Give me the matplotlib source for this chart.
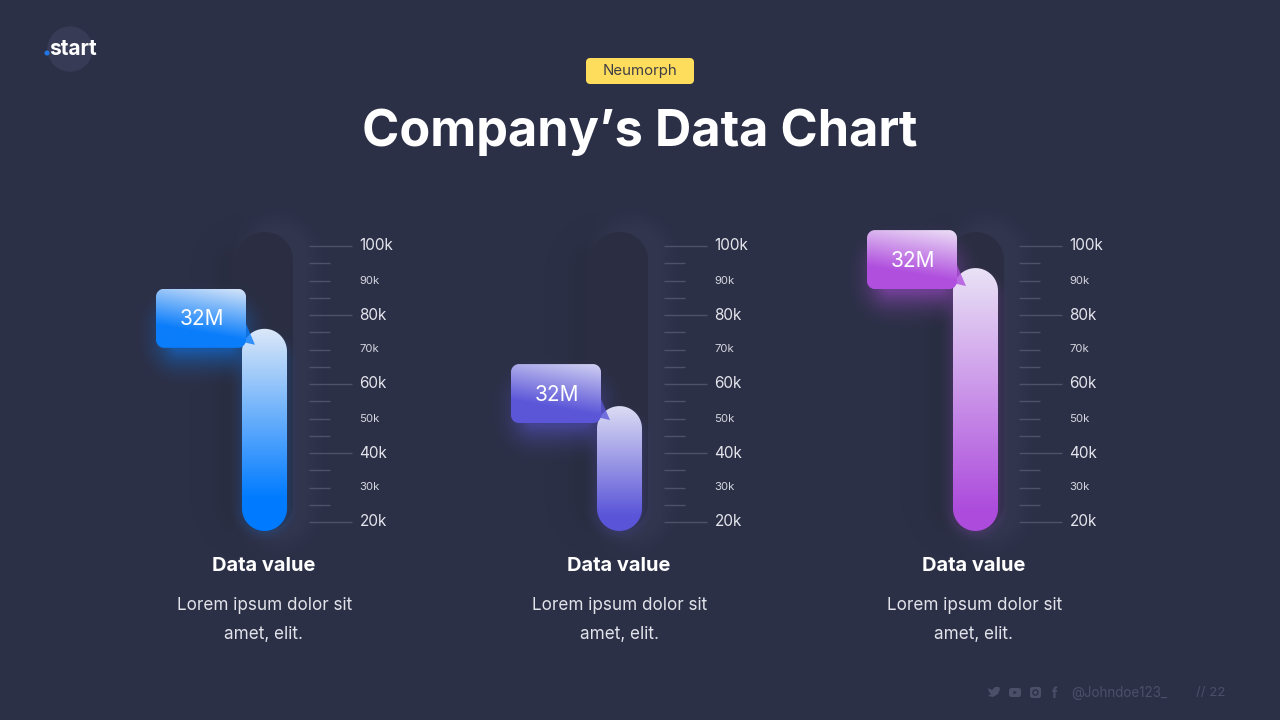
import numpy as np
import matplotlib
matplotlib.use("Agg")
import matplotlib.pyplot as plt
import matplotlib.patches as patches
from matplotlib.colors import to_rgb

plt.rcParams['font.family'] = ['Inter', 'DejaVu Sans']

# chart values (k)
bar_values = [76, 53.6, 93.6]
bar_base = 17.4
bubble_labels = ["32M", "32M", "32M"]
card_titles = ["Data value", "Data value", "Data value"]
card_lines = ["Lorem ipsum dolor sit", "amet, elit."]
tick_values = [100, 95, 90, 85, 80, 75, 70, 65, 60, 55, 50, 45, 40, 35, 30, 25, 20]
major_labels = {100: "100k", 80: "80k", 60: "60k", 40: "40k", 20: "20k"}
minor_labels = {90: "90k", 70: "70k", 50: "50k", 30: "30k"}

BG = "#2c3047"
W, H = 1280, 720
offsets = [0, 355, 711]
caption_x = [264, 619, 974]
bubble_lift = [40, 42, 38]
# top colour, bottom colour, where the bottom colour is reached
bar_colors = [("#dce8f8", "#007bff", 0.84), ("#dcdcf4", "#5a55d8", 0.88), ("#e9e2f6", "#ad4cdc", 0.92)]
bubble_colors = [("#d4e4f8", "#0a7dfb"), ("#d0cff2", "#5b56d8"), ("#ecdff6", "#b04fde")]
glow_colors = ["#0a7dfb", "#5b56d8", "#b04fde"]

fig = plt.figure(figsize=(12.8, 7.2), dpi=100, facecolor=BG)
ax = fig.add_axes([0, 0, 1, 1])
ax.set_xlim(0, W)
ax.set_ylim(H, 0)
ax.axis("off")

# second axes shares the figure, y is in k: 20k at px 522, 100k at px 246
val = fig.add_axes([0, 0, 1, 1], facecolor="none")
px_per_k = (522 - 246) / 80
val.set_xlim(0, W)
val.set_ylim(20 - (H - 522) / px_per_k, 20 + 522 / px_per_k)
val.axis("off")


def y_px(v):
    return H - val.transData.transform((0, v))[1]


yy, xx = np.mgrid[0:H, 0:W] + 0.5
canvas = np.ones((H, W, 3)) * np.array(to_rgb(BG))


def sdf(x0, y0, x1, y1, r):
    qx = np.abs(xx - (x0 + x1) / 2) - ((x1 - x0) / 2 - r)
    qy = np.abs(yy - (y0 + y1) / 2) - ((y1 - y0) / 2 - r)
    return np.hypot(np.maximum(qx, 0), np.maximum(qy, 0)) + np.minimum(np.maximum(qx, qy), 0) - r


def soft(box, r, color, alpha, spread):
    d = sdf(*box, r)
    a = alpha * np.clip(1 - d / spread, 0, 1) ** 2
    canvas[:] = canvas * (1 - a[..., None]) + np.array(to_rgb(color)) * a[..., None]


def solid(box, r, color):
    a = np.clip(0.5 - sdf(*box, r), 0, 1)
    canvas[:] = canvas * (1 - a[..., None]) + np.array(to_rgb(color)) * a[..., None]


def ramp(top, bottom, t):
    t = np.clip(t, 0, 1)[..., None]
    return np.array(to_rgb(top)) * (1 - t) + np.array(to_rgb(bottom)) * t


def round_box(x0, y0, x1, y1, r, **kw):
    # FancyBboxPatch corners are bezier and look squarish on the pills
    a = np.linspace(0, np.pi / 2, 16)
    pts = []
    for cx, cy, start in [(x1 - r, y0 + r, -np.pi / 2), (x1 - r, y1 - r, 0),
                          (x0 + r, y1 - r, np.pi / 2), (x0 + r, y0 + r, np.pi)]:
        pts += [(cx + r * np.cos(start + s), cy + r * np.sin(start + s)) for s in a]
    return patches.Polygon(pts, closed=True, **kw)


# soft neumorph shadows go into the background picture
for i, off in enumerate(offsets):
    top = y_px(bar_values[i])
    bar_x0 = 242 + off
    bub_x1 = bar_x0 + 4
    soft((236 + off - 12, 232 + 12, 293 + off - 12, 531 - 4), 28, "#272a3c", 0.5, 34)
    soft((236 + off + 12, 232 - 4, 293 + off + 12, 531 + 6), 28, "#3b3f5c", 0.38, 26)
    solid((236 + off, 232, 293 + off, 531), 28, "#2b2e43")
    soft((bar_x0, top + 10, bar_x0 + 45, 531), 22, glow_colors[i], 0.16, 14)
    by0 = top - bubble_lift[i]
    soft((bub_x1 - 74, by0 + 30, bub_x1 - 12, by0 + 62), 8, glow_colors[i], 0.5, 38)

ax.imshow(canvas, extent=(0, W, H, 0), aspect="auto", zorder=0, interpolation="nearest")

# logo
ax.add_patch(patches.Circle((70, 49), 22, color="#373b55", zorder=1))
ax.add_patch(patches.Circle((47, 53), 1.8, color="#1f78e6", zorder=2))
ax.text(49, 49, "start", color="white", fontsize=15, fontweight="bold", va="center", ha="left", zorder=3)

# header
ax.add_patch(round_box(586, 58, 694, 84, 4, fc="#ffdd5c", ec="none", zorder=1))
ax.text(640, 71, "Neumorph", color="#3f3f46", fontsize=10.8, ha="center", va="center", zorder=2)
ax.text(640, 132, "Company\u2019s Data Chart", color="white", fontsize=36.3, fontweight="bold",
        ha="center", va="center", zorder=2)

for i, off in enumerate(offsets):
    # scale ticks + labels, in value coordinates
    tick_off = min(off, 710)
    for v in tick_values:
        is_major = v in major_labels
        val.hlines(v, 309 + tick_off, (352 if is_major else 330) + tick_off, color="#4e5269", lw=1, zorder=1)
    for v, lab in major_labels.items():
        val.text(359.5 + tick_off, v, lab, color="#e4e5ec", fontsize=11, va="center", ha="left")
    for v, lab in minor_labels.items():
        val.text(359.5 + tick_off, v, lab, color="#d4d5de", fontsize=8.2, va="center", ha="left")

    # the bar: gradient clipped to a pill
    top = y_px(bar_values[i])
    bottom = y_px(bar_base)
    bar_x0 = 242 + off
    pill = round_box(bar_x0, top, bar_x0 + 45, bottom, 22.5, fc="none", ec="none", zorder=3)
    ax.add_patch(pill)
    c_top, c_bot, stop = bar_colors[i]
    t = np.linspace(0, 1, 256)[:, None] / stop
    im = ax.imshow(ramp(c_top, c_bot, np.repeat(t, 2, axis=1)), extent=(bar_x0, bar_x0 + 45, bottom, top),
                   aspect="auto", zorder=3, interpolation="bilinear")
    im.set_clip_path(pill)

    # bubble with tail
    bx1 = bar_x0 + 4
    bx0 = bx1 - 90
    by0 = top - bubble_lift[i]
    by1 = by0 + 59
    c_top, c_bot = bubble_colors[i]
    ax.add_patch(patches.Polygon([(bx1, by1 - 24), (bx1 + 9, by1 - 3), (bx1 - 4, by1 - 6)],
                                 closed=True, fc=c_bot, ec="none", alpha=0.8, zorder=4))
    box = round_box(bx0, by0, bx1, by1, 8, fc="none", ec="none", zorder=5)
    ax.add_patch(box)
    gy, gx = np.mgrid[0:1:64j, 0:1:64j]
    g = gy * 1.15 + (1 - gx) * 0.3
    im = ax.imshow(ramp(c_top, c_bot, g), extent=(bx0, bx1, by1, by0), aspect="auto", zorder=5,
                   interpolation="bilinear")
    im.set_clip_path(box)
    ax.text(bx0 + 45.5, by0 + 30.5, bubble_labels[i], color="white", fontsize=15, ha="center", va="center", zorder=6)

    # caption
    cx = caption_x[i]
    ax.text(cx, 566, card_titles[i], color="white", fontsize=14.4, fontweight="bold", ha="center", va="center")
    ax.text(cx + 0.5, 605, card_lines[0], color="#e2e3ea", fontsize=12.3, ha="center", va="center")
    ax.text(cx, 634, card_lines[1], color="#e2e3ea", fontsize=12.3, ha="center", va="center")

# footer
foot = "#4b4f68"
ax.add_patch(patches.Polygon([(988, 688), (992, 690), (995, 687), (999, 687), (1000, 689), (998, 694),
                              (993, 697), (988, 696), (991, 694), (989, 692)], closed=True, fc=foot, ec="none"))
ax.add_patch(round_box(1009, 688, 1021, 697, 2.5, fc=foot, ec="none"))
ax.add_patch(patches.Polygon([(1013.5, 690.5), (1017, 692.5), (1013.5, 694.5)], closed=True, fc=BG, ec="none"))
ax.add_patch(round_box(1030, 687, 1041, 698, 2.5, fc=foot, ec="none"))
ax.add_patch(patches.Circle((1035.5, 692.5), 2.6, fc="none", ec=BG, lw=1))
ax.text(1055, 693.5, "f", color=foot, fontsize=10, fontweight="bold", ha="center", va="center")
ax.text(1071.5, 693, "@Johndoe123_", color=foot, fontsize=9.7, ha="left", va="center")
ax.text(1195.5, 693, "// 22", color=foot, fontsize=9.5, ha="left", va="center")

ax.set_xlim(0, W)
ax.set_ylim(H, 0)
fig.savefig("out.png", dpi=100, facecolor=BG)
